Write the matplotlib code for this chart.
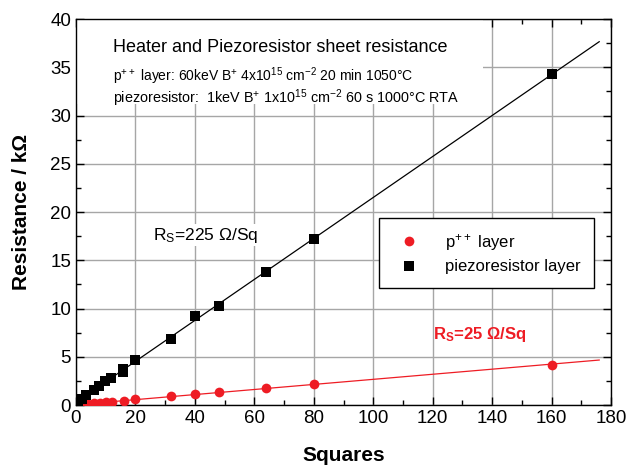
import numpy as np
import matplotlib
matplotlib.use('Agg')
import matplotlib.pyplot as plt
from matplotlib.patches import Rectangle

plt.rcParams['font.family'] = ['Liberation Sans', 'DejaVu Sans']
plt.rcParams['mathtext.default'] = 'regular'

# p++ layer (heater)
sq_p = [1, 2, 4, 6, 8, 10, 12, 16, 20, 32, 40, 48, 64, 80, 160]
r_p = [0.05, 0.08, 0.12, 0.17, 0.22, 0.27, 0.32, 0.45, 0.6, 0.95, 1.1, 1.35, 1.75, 2.15, 4.2]

# piezoresistor layer
sq_pz = [0.8, 2, 3.4, 5.9, 7.9, 9.9, 11.9, 15.7, 15.7, 20, 32, 40, 48, 64, 80, 160]
r_pz = [0.45, 0.6, 1.0, 1.55, 2.0, 2.5, 2.85, 3.4, 3.7, 4.7, 6.8, 9.2, 10.3, 13.8, 17.2, 34.3]

# linear fits
fit_p = np.polyfit(sq_p, r_p, 1)
fit_pz = np.polyfit(sq_pz, r_pz, 1)
x_fit = np.array([0, 176])

fig = plt.figure(figsize=(6.3, 4.76), dpi=100)
ax = fig.add_axes([0.1206, 0.149, 0.8494, 0.811])

ax.plot(x_fit, np.polyval(fit_pz, x_fit), color='black', lw=0.9, zorder=2)
ax.plot(x_fit, np.polyval(fit_p, x_fit), color='#ee1c24', lw=0.9, zorder=2)
ax.plot(sq_p, r_p, 'o', color='#ee1c24', ms=7, mew=0, label='p$^{++}$ layer', zorder=3)
ax.plot(sq_pz, r_pz, 's', color='black', ms=6.5, mew=0, label='piezoresistor layer', zorder=3)

ax.set_xlim(0, 180)
ax.set_ylim(0, 40)
ax.set_xticks(range(0, 181, 20))
ax.set_yticks(range(0, 41, 5))
ax.set_xticks(range(0, 181, 10), minor=True)
ax.set_yticks(np.arange(0, 40.1, 2.5), minor=True)
ax.tick_params(which='both', direction='in', top=True, right=True, labelsize=13.5)
ax.tick_params(which='major', length=6, width=1)
ax.tick_params(which='minor', length=3.5, width=1)
ax.set_axisbelow(True)
ax.grid(True, which='major', color='#a6a6a6', lw=1)
for s in ax.spines.values():
    s.set_linewidth(1)

ax.set_xlabel('Squares', fontsize=15, fontweight='bold', labelpad=14)
ax.set_ylabel('Resistance / k\u03a9', fontsize=15, fontweight='bold', labelpad=14)

# white box behind the header text
ax.add_patch(Rectangle((0, 0.78), 0.76, 0.22, transform=ax.transAxes,
                       facecolor='white', edgecolor='none', zorder=1))
ax.text(0.07, 0.925, 'Heater and Piezoresistor sheet resistance',
        transform=ax.transAxes, fontsize=13, va='center')
ax.text(0.07, 0.853, 'p$^{++}$ layer: 60keV B$^{+}$ 4x10$^{15}$ cm$^{-2}$ 20 min 1050\u00b0C',
        transform=ax.transAxes, fontsize=10, va='center')
ax.text(0.07, 0.795, 'piezoresistor:  1keV B$^{+}$ 1x10$^{15}$ cm$^{-2}$ 60 s 1000\u00b0C RTA',
        transform=ax.transAxes, fontsize=10.4, va='center')

ax.text(26, 17.6, 'R$_S$=225 \u03a9/Sq', fontsize=12.5, va='center',
        bbox=dict(facecolor='white', edgecolor='none', pad=1), zorder=1)
ax.text(120, 7.3, 'R$_S$=25 \u03a9/Sq', fontsize=12, fontweight='bold',
        color='#ee1c24', va='center')

leg = ax.legend(loc='upper left', bbox_to_anchor=(0.55, 0.505), fontsize=12,
                frameon=True, fancybox=False, framealpha=1, edgecolor='black',
                handletextpad=1.2, borderpad=0.8, labelspacing=0.4)
leg.get_frame().set_linewidth(1)

fig.savefig('out.png', dpi=100)
